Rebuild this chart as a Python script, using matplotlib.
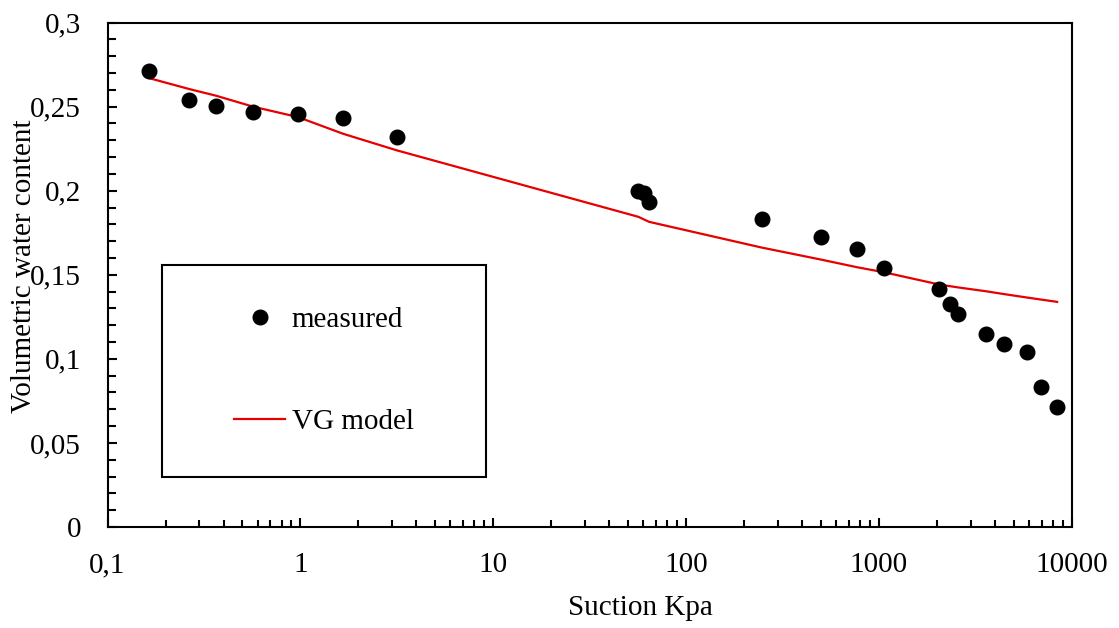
import matplotlib
matplotlib.use("Agg")
import matplotlib.pyplot as plt
from matplotlib.ticker import FixedLocator, FuncFormatter, LogLocator, NullFormatter, MultipleLocator
from matplotlib.patches import Rectangle
from matplotlib.lines import Line2D

plt.rcParams['font.family'] = ['Liberation Serif', 'DejaVu Serif']

# Suction (kPa) of each measurement
suction = [0.164, 0.265, 0.366, 0.569, 0.973, 1.665, 3.17, 56.6, 60.9, 64.4,
           247, 504, 772, 1065, 2063, 2350, 2578, 3602, 4478, 5856, 6918, 8414]
# Measured volumetric water content
theta_measured = [0.271, 0.2537, 0.2501, 0.2471, 0.2454, 0.243, 0.2317, 0.1998, 0.1988, 0.1933,
                  0.183, 0.1727, 0.1656, 0.154, 0.1418, 0.1329, 0.1264, 0.1145, 0.1087, 0.1041,
                  0.0834, 0.0711]
# Van Genuchten model evaluated at the same suctions
theta_vg = [0.267, 0.2605, 0.2565, 0.250, 0.2438, 0.2339, 0.224, 0.1845, 0.1828, 0.1815,
            0.1662, 0.159, 0.1545, 0.1515, 0.1442, 0.1432, 0.1425, 0.1402, 0.1385, 0.1365,
            0.1353, 0.1339]

x_ticks = [0.1, 1, 10, 100, 1000, 10000]
y_ticks = [0, 0.05, 0.1, 0.15, 0.2, 0.25, 0.3]

W, H = 1119, 628
FS = 21

fig = plt.figure(figsize=(W / 100, H / 100), dpi=100)
ax = fig.add_axes([107.5 / W, 1 - 527 / H, (1071.6 - 107.5) / W, (527 - 22.6) / H])

line_vg, = ax.plot(suction, theta_vg, color='#e60000', lw=1.6, zorder=2)
pts, = ax.plot(suction, theta_measured, 'o', color='black', ms=10.5, zorder=3, linestyle='none')

ax.set_xscale('log')
ax.set_xlim(0.1, 10000)
ax.set_ylim(0, 0.3)

ax.xaxis.set_major_locator(FixedLocator(x_ticks))
ax.xaxis.set_minor_locator(LogLocator(base=10, subs=range(2, 10), numticks=20))
ax.xaxis.set_minor_formatter(NullFormatter())
ax.xaxis.set_major_formatter(FuncFormatter(lambda v, p: ('%g' % v).replace('.', ',')))

ax.yaxis.set_major_locator(FixedLocator(y_ticks))
ax.yaxis.set_minor_locator(MultipleLocator(0.01))
ax.yaxis.set_major_formatter(FuncFormatter(lambda v, p: ('%g' % round(v, 4)).replace('.', ',')))

ax.tick_params(which='both', direction='in', width=1.5, labelsize=FS, top=False, right=False)
ax.tick_params(which='major', length=6.8)
ax.tick_params(which='minor', length=5.4)
ax.tick_params(axis='y', which='major', pad=19)
ax.tick_params(axis='x', which='major', pad=18)

for s in ax.spines.values():
    s.set_linewidth(1.5)

fig.text(640 / W, 1 - 608 / H, 'Suction Kpa', fontsize=FS, ha='center', va='center')
fig.text(24 / W, 1 - 266 / H, 'Volumetric water content', fontsize=FS, ha='center', va='center',
         rotation=90)

# Legend box
fig.patches.append(Rectangle((162 / W, 1 - 477 / H), (486 - 162) / W, (477 - 265) / H,
                             transform=fig.transFigure, fill=True, facecolor='white',
                             edgecolor='black', lw=1.5, zorder=5))
h_pts = Line2D([], [], marker='o', color='black', ms=10.5, linestyle='none')
h_line = Line2D([], [], color='#e60000', lw=1.6)
leg = fig.legend([h_pts, h_line], ['measured', 'VG model'], loc='center',
                 bbox_to_anchor=(324 / W, 1 - 371 / H), frameon=False, fontsize=FS,
                 handlelength=1.75, handletextpad=0.22, labelspacing=2.6, borderpad=0)
leg.set_zorder(6)

fig.savefig('out.png', dpi=100)
